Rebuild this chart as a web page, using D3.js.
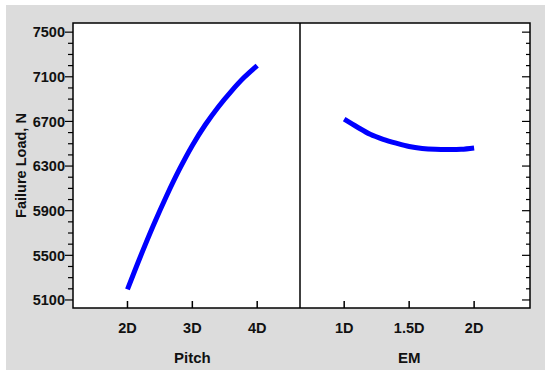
<!DOCTYPE html>
<html><head><meta charset="utf-8">
<script src="https://cdn.jsdelivr.net/npm/d3@7"></script>
<style>body{margin:0;background:#fff}svg{display:block}text{font-family:"Liberation Sans",Arial,sans-serif;font-weight:bold;fill:#111}</style>
</head><body><svg id="c" width="550" height="375"></svg>
<script>
const pitchX = [2.0,2.2,2.4,2.6,2.8,3.0,3.2,3.4,3.6,3.8,4.0];
const pitchY = [5195,5490,5770,6030,6270,6485,6670,6830,6970,7095,7200];
const emX = [1.0,1.1,1.2,1.3,1.4,1.5,1.6,1.7,1.8,1.9,2.0];
const emY = [6720,6650,6585,6540,6505,6475,6458,6450,6448,6450,6462];
const yTicks = [5100,5500,5900,6300,6700,7100,7500];
const pitchTicks = [2,3,4], pitchLabels = ["2D","3D","4D"];
const emTicks = [1,1.5,2], emLabels = ["1D","1.5D","2D"];

const svg = d3.select("#c");
svg.append("rect").attr("x",6).attr("y",5).attr("width",539).attr("height",365).attr("fill","#dcdcdc");
const L=73,R=530,T=23,B=308,M=300;
svg.append("rect").attr("x",L).attr("y",T).attr("width",R-L).attr("height",B-T).attr("fill","#fff");

const y = d3.scaleLinear().domain([5028,7582]).range([B,T]);
const xP = d3.scaleLinear().domain([1.16,4.66]).range([L,M]);
const xE = d3.scaleLinear().domain([0.66,2.43]).range([M,R]);

const minor = d3.range(5100,7501,100);
const fs = 14.5;
// left axis
const gl = svg.append("g").attr("transform",`translate(${L},0)`);
gl.selectAll("line").data(minor).join("line").attr("x1",d=>yTicks.includes(d)?-8:-5).attr("x2",0)
  .attr("y1",d=>y(d)).attr("y2",d=>y(d)).attr("stroke","#000").attr("stroke-width",1.2);
gl.selectAll("text").data(yTicks).join("text").attr("x",-8).attr("y",d=>y(d)).attr("dy","0.36em")
  .attr("text-anchor","end").attr("font-size",fs).text(d=>d);
// right axis ticks inward
const gr = svg.append("g").attr("transform",`translate(${R},0)`);
gr.selectAll("line").data(minor).join("line").attr("x1",d=>yTicks.includes(d)?-8:-4).attr("x2",0)
  .attr("y1",d=>y(d)).attr("y2",d=>y(d)).attr("stroke","#000").attr("stroke-width",1.2);
// bottom ticks
function xt(scale,ticks,labels,title,tx){
  const g=svg.append("g");
  g.selectAll("line").data(ticks).join("line").attr("x1",d=>scale(d)).attr("x2",d=>scale(d))
    .attr("y1",B).attr("y2",B-7).attr("stroke","#000").attr("stroke-width",1.5);
  g.selectAll("text").data(ticks).join("text").attr("x",d=>scale(d)).attr("y",328).attr("dy","0.36em")
    .attr("text-anchor","middle").attr("font-size",fs).text((d,i)=>labels[i]);
  g.append("text").attr("x",scale(tx)).attr("y",358).attr("dy","0.36em").attr("text-anchor","middle")
    .attr("font-size",15).text(title);
}
xt(xP,pitchTicks,pitchLabels,"Pitch",3);
xt(xE,emTicks,emLabels,"EM",1.5);
// frame
svg.append("rect").attr("x",L).attr("y",T).attr("width",R-L).attr("height",B-T).attr("fill","none").attr("stroke","#000").attr("stroke-width",1.5);
svg.append("line").attr("x1",M).attr("x2",M).attr("y1",T).attr("y2",B).attr("stroke","#000").attr("stroke-width",1.5);
// y title
svg.append("text").attr("transform",`translate(21,${(T+B)/2}) rotate(-90)`).attr("dy","0.36em")
  .attr("text-anchor","middle").attr("font-size",fs).text("Failure Load, N");
// curves
const lp = d3.line().x((d,i)=>xP(pitchX[i])).y(d=>y(d)).curve(d3.curveCatmullRom);
const le = d3.line().x((d,i)=>xE(emX[i])).y(d=>y(d)).curve(d3.curveCatmullRom);
svg.append("path").attr("d",lp(pitchY)).attr("fill","none").attr("stroke","#0000ff").attr("stroke-width",5);
svg.append("path").attr("d",le(emY)).attr("fill","none").attr("stroke","#0000ff").attr("stroke-width",5);
</script></body></html>
